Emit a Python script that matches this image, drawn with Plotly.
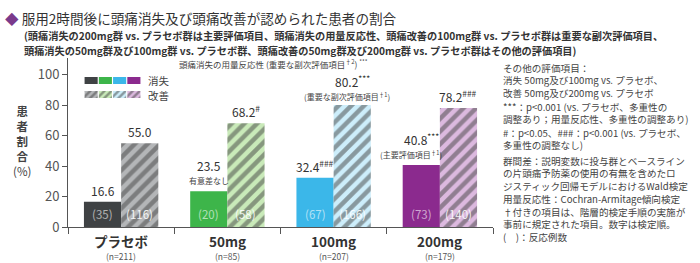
import plotly.graph_objects as go

# ---------------- data ----------------
categories = ["プラセボ", "50mg", "100mg", "200mg"]
n_labels = ["(n=211)", "(n=85)", "(n=207)", "(n=179)"]
resolved = [16.6, 23.5, 32.4, 40.8]          # 消失
improved = [55.0, 68.2, 80.2, 78.2]          # 改善
resolved_counts = ["(35)", "(20)", "(67)", "(73)"]
improved_counts = ["(116)", "(58)", "(166)", "(140)"]
resolved_marks = ["", "", "<sup>###</sup>", "<sup>***</sup>"]
improved_marks = ["", "<sup>#</sup>", "<sup>***</sup>", "<sup>###</sup>"]
resolved_notes = ["", "有意差なし", "", "(主要評価項目<sup>†1</sup>)"]
improved_notes = ["", "", "(重要な副次評価項目<sup>†1</sup>)", ""]
y_ticks = [0, 20, 40, 60, 80, 100]

solid_colors = ["#3f4244", "#3db54a", "#3bb7e9", "#8b2a8e"]
stripe_bg = ["#b4b6b8", "#c9eab9", "#cdeefb", "#dcb9df"]
stripe_fg = ["#55585a", "#56bf4f", "#45bbea", "#9a42a0"]

notes_paragraphs = [
    ["その他の評価項目：",
     "消失 50mg及び100mg vs. プラセボ、",
     "改善 50mg及び200mg vs. プラセボ"],
    ["***：p<0.001 (vs. プラセボ、多重性の",
     "調整あり；用量反応性、多重性の調整あり)"],
    ["#：p<0.05、###：p<0.001 (vs. プラセボ、",
     "多重性の調整なし)"],
    ["群間差：説明変数に投与群とベースライン",
     "の片頭痛予防薬の使用の有無を含めたロ",
     "ジスティック回帰モデルにおけるWald検定"],
    ["用量反応性：Cochran-Armitage傾向検定"],
    ["†付きの項目は、階層的検定手順の実施が",
     "事前に規定された項目。数字は検定順。"],
    ["(　)：反応例数"],
]
notes_center_y = [80, 113, 139, 173, 199, 218, 237]
y_title = "<b>患<br>者<br>割<br>合</b><br>(%)"

FONT = "Noto Sans CJK JP"
W, H = 700, 263
L, R, T, B = 68, 207, 58, 36
PW, PH = W - L - R, H - T - B


def px(x):
    return (x - L) / PW


def py(y):
    return (H - B - y) / PH


x_idx = list(range(len(categories)))

fig = go.Figure()
fig.add_trace(go.Bar(
    x=x_idx, y=resolved, name="消失",
    marker=dict(color=solid_colors, line=dict(width=0)),
    hoverinfo="skip",
))
fig.add_trace(go.Bar(
    x=x_idx, y=improved, name="改善",
    marker=dict(color=stripe_bg, line=dict(width=0),
                pattern=dict(shape="/", fgcolor=stripe_fg, bgcolor=stripe_bg,
                             size=9, solidity=0.5, fillmode="overlay")),
    hoverinfo="skip",
))

# legend swatches (mini axis)
leg_x = x_idx + x_idx
leg_base = [15] * 4 + [1] * 4
leg_h = [7] * 8
fig.add_trace(go.Bar(
    x=leg_x, y=leg_h, base=leg_base, width=[0.92] * 8,
    xaxis="x2", yaxis="y2", showlegend=False, hoverinfo="skip",
    marker=dict(color=solid_colors + stripe_bg, line=dict(width=0),
                pattern=dict(shape=[""] * 4 + ["/"] * 4,
                             fgcolor=solid_colors + stripe_fg,
                             bgcolor=solid_colors + stripe_bg,
                             size=5, solidity=0.5, fillmode="overlay")),
))

ann = []
off = 0.175
for i in x_idx:
    has_rn = resolved_notes[i] != ""
    has_in = improved_notes[i] != ""
    ann.append(dict(x=i - off, y=resolved[i], xref="x", yref="y",
                    text=f"{resolved[i]:.1f}{resolved_marks[i]}",
                    showarrow=False, yanchor="bottom",
                    yshift=(15 if has_rn else 1),
                    font=dict(size=12, color="#333", family=FONT)))
    if has_rn:
        ann.append(dict(x=i - off - (0.1 if i == 3 else 0), y=resolved[i], xref="x", yref="y",
                        text=resolved_notes[i], showarrow=False, yanchor="bottom",
                        yshift=3, font=dict(size=8, color="#444", family=FONT)))
    ann.append(dict(x=i + off, y=improved[i], xref="x", yref="y",
                    text=f"{improved[i]:.1f}{improved_marks[i]}",
                    showarrow=False, yanchor="bottom",
                    yshift=(13 if has_in else 1),
                    font=dict(size=12, color="#333", family=FONT)))
    if has_in:
        ann.append(dict(x=i + off - 0.05, y=improved[i], xref="x", yref="y",
                        text=improved_notes[i], showarrow=False, yanchor="bottom",
                        yshift=1, font=dict(size=8, color="#444", family=FONT)))
    ann.append(dict(x=i - off, y=0, xref="x", yref="y", text=resolved_counts[i],
                    showarrow=False, yanchor="middle", yshift=13,
                    font=dict(size=11.5, color="rgba(255,255,255,0.6)", family=FONT)))
    ann.append(dict(x=i + off, y=0, xref="x", yref="y", text=improved_counts[i],
                    showarrow=False, yanchor="middle", yshift=13,
                    font=dict(size=11.5, color="rgba(255,255,255,0.9)", family=FONT)))
    ann.append(dict(x=i, y=0, xref="x", yref="paper", text=f"<b>{categories[i]}</b>",
                    showarrow=False, yanchor="middle", yshift=-14,
                    font=dict(size=13.5, color="#333", family=FONT)))
    ann.append(dict(x=i, y=0, xref="x", yref="paper", text=n_labels[i],
                    showarrow=False, yanchor="middle", yshift=-29,
                    font=dict(size=8.5, color="#555", family=FONT)))

# legend texts
ann.append(dict(x=px(146), y=py(80), xref="paper", yref="paper", text="消失",
                showarrow=False, xanchor="left", yanchor="middle",
                font=dict(size=10.5, color="#444", family=FONT)))
ann.append(dict(x=px(146), y=py(95), xref="paper", yref="paper", text="改善",
                showarrow=False, xanchor="left", yanchor="middle",
                font=dict(size=10.5, color="#444", family=FONT)))

# y-axis title (stacked characters)
ann.append(dict(x=px(22), y=py(141), xref="paper", yref="paper", text=y_title,
                showarrow=False, xanchor="center", yanchor="middle", align="center",
                font=dict(size=11.5, color="#444", family=FONT)))

# chart subtitle
ann.append(dict(x=px(177), y=py(64), xref="paper", yref="paper",
                text="頭痛消失の用量反応性 (重要な副次評価項目<sup>†2</sup>) <sup>***</sup>",
                showarrow=False, xanchor="left", yanchor="middle",
                font=dict(size=8.5, color="#444", family=FONT)))

# title & subtitle
ann.append(dict(x=px(3), y=py(18), xref="paper", yref="paper",
                text="<span style='color:#7a3a8c'>◆</span> 服用2時間後に頭痛消失及び頭痛改善が認められた患者の割合",
                showarrow=False, xanchor="left", yanchor="middle",
                font=dict(size=13.6, color="#333", family=FONT)))
ann.append(dict(x=px(22), y=py(35), xref="paper", yref="paper",
                text="<b>(頭痛消失の200mg群 vs. プラセボ群は主要評価項目、頭痛消失の用量反応性、頭痛改善の100mg群 vs. プラセボ群は重要な副次評価項目、</b>",
                showarrow=False, xanchor="left", yanchor="middle",
                font=dict(size=10.2, color="#333", family=FONT)))
ann.append(dict(x=px(22), y=py(50.5), xref="paper", yref="paper",
                text="<b>頭痛消失の50mg群及び100mg群 vs. プラセボ群、頭痛改善の50mg群及び200mg群 vs. プラセボ群はその他の評価項目)</b>",
                showarrow=False, xanchor="left", yanchor="middle",
                font=dict(size=10.2, color="#333", family=FONT)))

# right notes
for lines, yy in zip(notes_paragraphs, notes_center_y):
    ann.append(dict(x=px(501), y=py(yy), xref="paper", yref="paper",
                    text="<br>".join(lines), align="left",
                    showarrow=False, xanchor="left", yanchor="middle",
                    font=dict(size=9.6, color="#444", family=FONT)))

fig.update_layout(
    width=W, height=H,
    margin=dict(l=L, r=R, t=T, b=B, autoexpand=False),
    paper_bgcolor="white", plot_bgcolor="white",
    barmode="group", bargap=0.3, bargroupgap=0.0,
    showlegend=False,
    font=dict(family=FONT, color="#444"),
    xaxis=dict(range=[-0.5, 3.5], showline=True, linecolor="#555", linewidth=1,
               tickmode="array", tickvals=[-0.5, 0.5, 1.5, 2.5, 3.5],
               showticklabels=False, ticks="outside", ticklen=6, tickcolor="#555",
               showgrid=False, zeroline=False, fixedrange=True),
    yaxis=dict(range=[0, 111], showline=True, linecolor="#555", linewidth=1,
               tickmode="array", tickvals=y_ticks, ticks="outside", ticklen=5,
               tickcolor="#555", tickfont=dict(size=13, color="#555", family=FONT),
               showgrid=False, zeroline=False, fixedrange=True),
    xaxis2=dict(domain=[px(84), px(141)], range=[-0.5, 3.5], visible=False,
                anchor="y2", fixedrange=True),
    yaxis2=dict(domain=[py(99), py(76)], range=[0, 23], visible=False,
                anchor="x2", fixedrange=True),
    annotations=ann,
)

fig.write_html("out.html")
